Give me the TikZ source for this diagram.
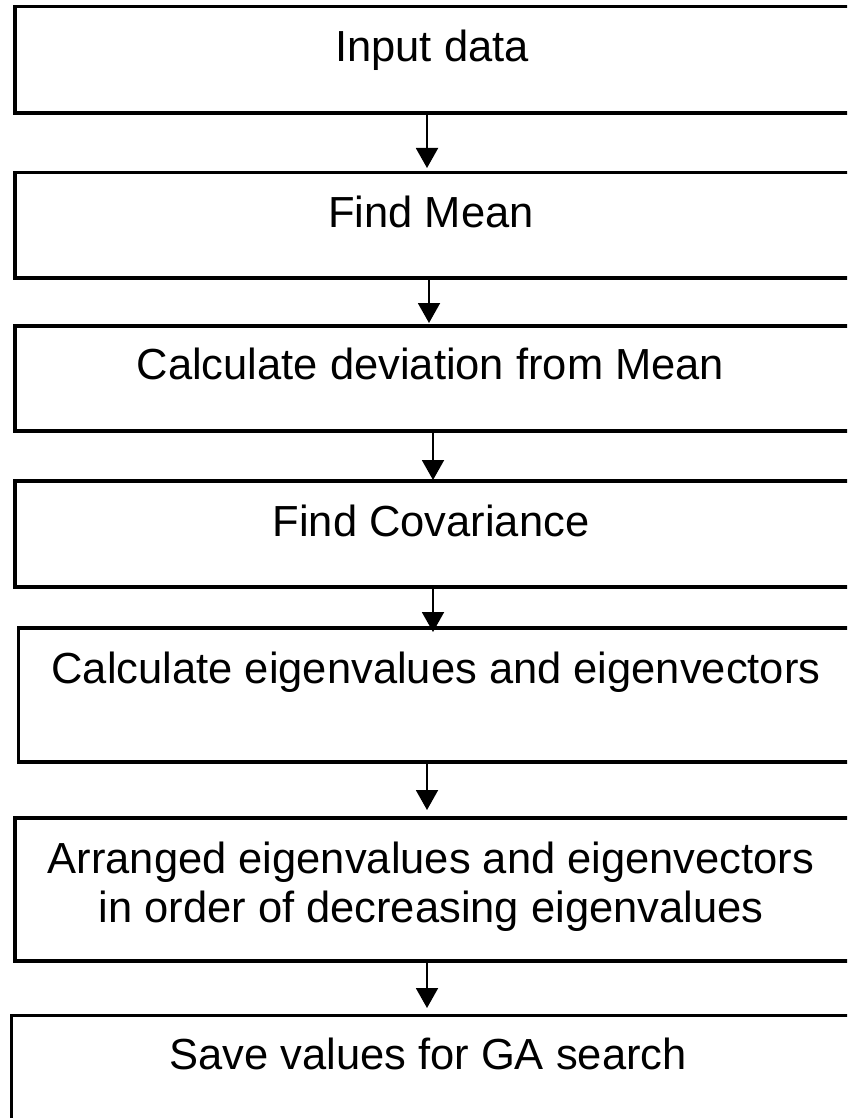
\documentclass[tikz,border=0pt]{standalone}
\usepackage{fontspec}
\setmainfont{Liberation Sans}
\usetikzlibrary{arrows.meta}
\begin{document}
\begin{tikzpicture}[x=1pt,y=-1pt,
  box/.style={draw, line width=3.5pt, anchor=north west, inner sep=0pt, outer sep=0pt},
  txt/.style={anchor=base, inner sep=0pt, font=\fontsize{43.5}{49}\selectfont, align=center},
  arr/.style={line width=2pt, -{Triangle[width=22pt,length=20pt]}}]
\useasboundingbox (0,0) rectangle (847,1118);
\clip (0,0) rectangle (847,1118);
% boxes
\node[box, minimum width=850pt, minimum height=106.5pt] (b1) at (15,6.5) {};
\node[box, minimum width=850pt, minimum height=105.5pt] (b2) at (15,172.5) {};
\node[box, minimum width=850pt, minimum height=105pt] (b3) at (15,326) {};
\node[box, minimum width=850pt, minimum height=106pt] (b4) at (15,481) {};
\node[box, minimum width=850pt, minimum height=134pt] (b5) at (18.5,628) {};
\node[box, minimum width=850pt, minimum height=143pt] (b6) at (15,818) {};
\node[box, minimum width=850pt, minimum height=130pt] (b7) at (11.5,1015.5) {};
% texts
\node[txt] (t1) at (432,62) {Input data};
\node[txt] (t2) at (431,227) {Find Mean};
\node[txt] (t3) at (430.5,379) {Calculate deviation from Mean};
\node[txt] (t4) at (431,536) {Find Covariance};
\node[txt] (t5) at (436,683) {Calculate eigenvalues and eigenvectors};
\node[txt] (t6) at (431,922) {Arranged eigenvalues and eigenvectors\\in order of decreasing eigenvalues};
\node[txt] (t7) at (428,1069) {Save values for GA search};
% arrow columns
\coordinate (c1) at (427,140);
\coordinate (c2) at (429,300);
\coordinate (c3) at (433,455);
\coordinate (c4) at (433,605);
\coordinate (c5) at (427,790);
\coordinate (c6) at (427,990);
% arrows
\draw[arr, shorten >=4.5pt] (c1 |- b1.south) -- (c1 |- b2.north);
\draw[arr, shorten >=3pt] (c2 |- b2.south) -- (c2 |- b3.north);
\draw[arr, shorten >=1pt] (c3 |- b3.south) -- (c3 |- b4.north);
\draw[arr, shorten >=-4pt] (c4 |- b4.south) -- (c4 |- b5.north);
\draw[arr, shorten >=8pt] (c5 |- b5.south) -- (c5 |- b6.north);
\draw[arr, shorten >=7.5pt] (c6 |- b6.south) -- (c6 |- b7.north);
\end{tikzpicture}
\end{document}
